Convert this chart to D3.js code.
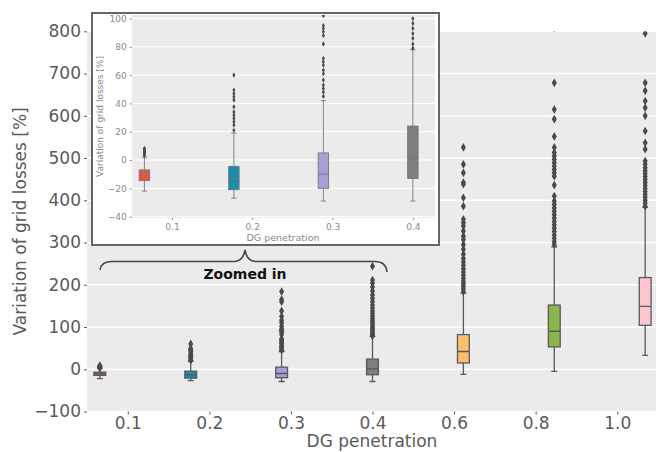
<!DOCTYPE html>
<html>
<head>
<meta charset="utf-8">
<script src="https://cdn.jsdelivr.net/npm/d3@7"></script>
<style>
body { margin: 0; background: #fff; }
text { font-family: "DejaVu Sans", sans-serif; }
</style>
</head>
<body>
<script>
// box statistics per DG penetration level
var categories = ["0.1", "0.2", "0.3", "0.4", "0.6", "0.8", "1.0"];
var whiskerLow  = [-22, -27, -29, -29, -12, -5, 33];
var q1          = [-14.6, -21, -20, -13, 15, 53, 104];
var median      = [-10.6, -13, -10, 1, 42, 90, 149];
var q3          = [-7, -4.5, 5, 24, 82, 152, 217];
var whiskerHigh = [2, 19, 42, 78, 180, 290, 383];
var outliers = [
  [3, 4, 5, 5.5, 6, 6.5, 7, 7.5, 8.3],
  [21, 24.7, 27, 29.4, 31.8, 34, 37.6, 42.4, 44.7, 47, 49.4, 60],
  [45, 48, 50.6, 53, 56.5, 61, 63.5, 67, 69.4, 71.8, 82, 88, 90.6, 93, 95, 102, 110, 116, 125, 138, 160, 165, 184],
  [79, 82, 86, 89.4, 93, 96.5, 100, 105, 110, 115, 120, 126, 132, 138, 145, 152, 160, 168, 176, 185, 195, 204, 211, 244],
  [184, 190, 196, 202, 208, 215, 222, 230, 238, 246, 254, 262, 272, 284, 295, 307, 315, 327, 339, 347, 355, 386, 406, 438, 442, 465, 485, 525],
  [295, 302, 310, 318, 326, 334, 342, 350, 358, 366, 374, 382, 390, 398, 410, 436, 457, 465, 473, 481, 489, 497, 505, 513, 525, 551, 592, 615, 678, 808],
  [386, 393, 400, 407, 414, 421, 428, 435, 442, 449, 456, 463, 470, 477, 485, 493, 521, 536, 564, 600, 619, 635, 659, 678, 795]
];
var yTicks = [-100, 0, 100, 200, 300, 400, 500, 600, 700, 800];
var insetCount = 4;
var insetTicks = [-40, -20, 0, 20, 40, 60, 80, 100];

var palette = ["#e5543f", "#1c8cae", "#a79fd8", "#7d7d7d", "#fdbf6f", "#8ab54a", "#fcc5cf"];

var width = 656,
    height = 452;

var svg = d3.select("body").append("svg")
    .attr("width", width)
    .attr("height", height);

// seaborn-like dodge: each category shifted by its hue slot
function dodge(i) {
  var n = categories.length;
  return i + (i - (n - 1) / 2) * 0.8 / n;
}

function drawPanel(g, x, y, idx, opt) {
  var x0 = x.range()[0], x1 = opt.right;
  var yr = y.range();

  var clipId = "clip-" + opt.name;
  g.append("clipPath").attr("id", clipId)
    .append("rect")
    .attr("x", x0).attr("y", yr[1])
    .attr("width", x1 - x0).attr("height", yr[0] - yr[1]);

  g.append("rect")
    .attr("x", x0).attr("y", yr[1])
    .attr("width", x1 - x0).attr("height", yr[0] - yr[1])
    .attr("fill", "#ebebeb");

  g.append("g").selectAll("line")
    .data(opt.ticks)
    .enter().append("line")
    .attr("x1", x0).attr("x2", x1)
    .attr("y1", function(d) { return y(d); })
    .attr("y2", function(d) { return y(d); })
    .attr("stroke", "#fff")
    .attr("stroke-width", opt.grid);

  var plot = g.append("g").attr("clip-path", "url(#" + clipId + ")");
  var unit = x(1) - x(0);
  var bw = opt.boxW * unit;

  var box = plot.selectAll("g.box")
    .data(idx)
    .enter().append("g")
    .attr("class", "box")
    .attr("transform", function(i) { return "translate(" + x(dodge(i)) + ",0)"; });

  box.append("line")
    .attr("y1", function(i) { return y(whiskerLow[i]); })
    .attr("y2", function(i) { return y(q1[i]); })
    .attr("stroke", opt.line).attr("stroke-width", opt.lw);
  box.append("line")
    .attr("y1", function(i) { return y(q3[i]); })
    .attr("y2", function(i) { return y(whiskerHigh[i]); })
    .attr("stroke", opt.line).attr("stroke-width", opt.lw);
  box.selectAll("line.cap")
    .data(function(i) { return [whiskerLow[i], whiskerHigh[i]]; })
    .enter().append("line")
    .attr("class", "cap")
    .attr("x1", -bw / 4).attr("x2", bw / 4)
    .attr("y1", function(d) { return y(d); })
    .attr("y2", function(d) { return y(d); })
    .attr("stroke", opt.line).attr("stroke-width", opt.lw);

  box.append("rect")
    .attr("x", -bw / 2).attr("width", bw)
    .attr("y", function(i) { return y(q3[i]); })
    .attr("height", function(i) { return y(q1[i]) - y(q3[i]); })
    .attr("fill", function(i) { return palette[i]; })
    .attr("stroke", opt.line).attr("stroke-width", opt.lw);

  box.append("line")
    .attr("x1", -bw / 2).attr("x2", bw / 2)
    .attr("y1", function(i) { return y(median[i]); })
    .attr("y2", function(i) { return y(median[i]); })
    .attr("stroke", opt.line).attr("stroke-width", opt.lw);

  var sym = d3.symbol().type(d3.symbolDiamond).size(opt.marker);
  box.selectAll("path.flier")
    .data(function(i) { return outliers[i]; })
    .enter().append("path")
    .attr("class", "flier")
    .attr("transform", function(d) { return "translate(0," + y(d) + ")"; })
    .attr("d", sym)
    .attr("fill", "#4a4a4a");

  // axes
  var ya = g.append("g")
    .attr("transform", "translate(" + x0 + ",0)")
    .call(d3.axisLeft(y).tickValues(opt.ticks).tickSize(opt.tick).tickPadding(opt.pad));
  var xa = g.append("g")
    .attr("transform", "translate(0," + yr[0] + ")")
    .call(d3.axisBottom(x).tickValues(idx).tickFormat(function(i) { return categories[i]; })
      .tickSize(opt.tick).tickPadding(opt.padX));
  [ya, xa].forEach(function(a) {
    a.select(".domain").remove();
    a.selectAll("line").attr("stroke", opt.text);
    a.selectAll("text").attr("fill", opt.text).attr("font-size", opt.font)
      .attr("font-family", "DejaVu Sans, sans-serif");
  });

  g.append("text")
    .attr("transform", "translate(" + opt.ylabX + "," + (yr[0] + yr[1]) / 2 + ") rotate(-90)")
    .attr("text-anchor", "middle")
    .attr("dy", "0.35em")
    .attr("fill", opt.text)
    .attr("font-size", opt.font)
    .text("Variation of grid losses [%]");
  g.append("text")
    .attr("x", opt.xlabX).attr("y", opt.xlabY)
    .attr("text-anchor", "middle")
    .attr("fill", opt.text)
    .attr("font-size", opt.xlabFont)
    .text("DG penetration");
}

// main chart
var x = d3.scaleLinear().domain([-0.5, 6.5]).range([87, 658]);
var y = d3.scaleLinear().domain([-100, 800]).range([411.5, 31.3]);
drawPanel(svg.append("g"), x, y, d3.range(categories.length), {
  name: "main", right: 656, ticks: yTicks, grid: 1.5, boxW: 0.145,
  line: "#5a5a5a", lw: 1.3, marker: 22, tick: 3, pad: 3, padX: 2,
  text: "#5a5a5a", font: 17, xlabFont: 17, ylabX: 20, xlabX: 372, xlabY: 447
});

// inset frame
var inset = svg.append("g");
inset.append("rect")
  .attr("x", 92).attr("y", 13)
  .attr("width", 347).attr("height", 232)
  .attr("fill", "#fff")
  .attr("stroke", "#666")
  .attr("stroke-width", 2);

var xi = d3.scaleLinear().domain([-0.5, 3.5]).range([131.8, 453]);
var yi = d3.scaleLinear().domain([-41, 102.5]).range([218, 15]);
drawPanel(inset, xi, yi, d3.range(insetCount), {
  name: "inset", right: 435, ticks: insetTicks, grid: 1, boxW: 0.13,
  line: "#777", lw: 0.9, marker: 8, tick: 2, pad: 3, padX: 4,
  text: "#8a8a8a", font: 9, xlabFont: 9.5, ylabX: 100, xlabX: 283, xlabY: 241
});

// brace pointing to the inset
svg.append("path")
  .attr("d", "M100,270 Q101,261.5 112,261.5 L234,261.5 Q243,261.5 245,250 " +
             "Q247,261.5 256,261.5 L375,261.5 Q386,261.5 387,272")
  .attr("fill", "none")
  .attr("stroke", "#444")
  .attr("stroke-width", 1.6);

svg.append("text")
  .attr("x", 245).attr("y", 279)
  .attr("text-anchor", "middle")
  .attr("font-family", "Open Sans, sans-serif")
  .attr("font-weight", 600)
  .attr("font-size", 14)
  .attr("fill", "#111")
  .text("Zoomed in");
</script>
</body>
</html>
